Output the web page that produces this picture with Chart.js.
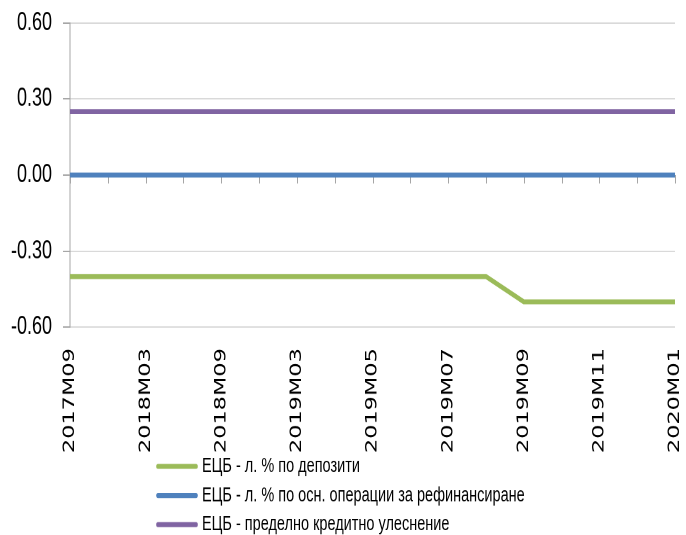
<!DOCTYPE html>
<html lang="bg">
<head>
<meta charset="utf-8">
<title>ЕЦБ - лихвени проценти</title>
<script src="https://cdn.jsdelivr.net/npm/chart.js@4.4.1/dist/chart.umd.min.js"></script>
<style>
  html, body { margin: 0; padding: 0; background: #fff; height: 535px; overflow: hidden; }
  /* графиката е изтеглена вертикално, както в оригиналния отчет */
  #wrap { width: 686px; height: 382px; transform: scaleY(1.4005); transform-origin: 0 0; }
  #rates { display: block; }
</style>
</head>
<body>
<div id="wrap"><canvas id="rates" width="686" height="382"></canvas></div>
<script>
// --- данни ---
const periods = ['2017M09', '2017M12', '2018M03', '2018M06', '2018M09', '2018M12',
                 '2019M03', '2019M04', '2019M05', '2019M06', '2019M07', '2019M08',
                 '2019M09', '2019M10', '2019M11', '2019M12', '2020M01'];

const depositRate  = [-0.40, -0.40, -0.40, -0.40, -0.40, -0.40, -0.40, -0.40, -0.40,
                      -0.40, -0.40, -0.40, -0.50, -0.50, -0.50, -0.50, -0.50];
const mroRate      = [0.00, 0.00, 0.00, 0.00, 0.00, 0.00, 0.00, 0.00, 0.00,
                      0.00, 0.00, 0.00, 0.00, 0.00, 0.00, 0.00, 0.00];
const marginalRate = [0.25, 0.25, 0.25, 0.25, 0.25, 0.25, 0.25, 0.25, 0.25,
                      0.25, 0.25, 0.25, 0.25, 0.25, 0.25, 0.25, 0.25];

const seriesNames = ['ЕЦБ - л. % по депозити',
                     'ЕЦБ - л. % по осн. операции за рефинансиране',
                     'ЕЦБ - пределно кредитно улеснение'];

const yTickValues = [-0.6, -0.3, 0, 0.3, 0.6];

// чертички на категорийната ос, поставени върху нулевата линия
const zeroTicks = {
    id: 'zeroTicks',
    beforeDatasetsDraw(chart) {
        const xs = chart.scales.x, ys = chart.scales.y;
        const y0 = ys.getPixelForValue(0);
        const ctx = chart.ctx;
        ctx.save();
        ctx.strokeStyle = '#a6a6a6';
        ctx.lineWidth = 1;
        ctx.beginPath();
        ctx.moveTo(xs.left, y0);
        ctx.lineTo(xs.right, y0);
        for (let i = 0; i < periods.length; i++) {
            const x = Math.round(xs.getPixelForTick(i)) + 0.5;
            ctx.moveTo(x, y0);
            ctx.lineTo(x, y0 + 6);
        }
        ctx.stroke();
        ctx.restore();
    }
};

// легенда - по един ред за всяка серия, центрирана под графиката
const listLegend = {
    id: 'listLegend',
    afterDraw(chart) {
        const ctx = chart.ctx;
        const top = chart.scales.x.bottom + 8.4;
        const step = 20.8;
        const sample = 42, gap = 4;
        ctx.save();
        ctx.font = '14.5px "Liberation Sans", Arial, sans-serif';
        const widest = Math.max(...chart.data.datasets.map(d => ctx.measureText(d.label).width));
        const left = Math.round((chart.width - sample - gap - widest) / 2) - 3;
        chart.data.datasets.forEach((ds, i) => {
            const y = top + i * step;
            ctx.strokeStyle = ds.borderColor;
            ctx.lineWidth = 3.6;
            ctx.lineCap = 'round';
            ctx.beginPath();
            ctx.moveTo(left + 2, y);
            ctx.lineTo(left + sample - 2, y);
            ctx.stroke();
            ctx.fillStyle = '#000';
            ctx.textAlign = 'left';
            ctx.textBaseline = 'middle';
            ctx.fillText(ds.label, left + sample + gap, y);
        });
        ctx.restore();
    }
};

new Chart(document.getElementById('rates'), {
    type: 'line',
    data: {
        labels: periods,
        datasets: [
            { label: seriesNames[0], data: depositRate,  borderColor: '#9bbb59' },
            { label: seriesNames[1], data: mroRate,      borderColor: '#4f81bd' },
            { label: seriesNames[2], data: marginalRate, borderColor: '#8064a2' }
        ]
    },
    options: {
        responsive: false,
        devicePixelRatio: 2,
        animation: false,
        layout: { padding: { top: 16.4, right: 11, bottom: 57.4, left: 0 } },
        plugins: { legend: { display: false }, tooltip: { enabled: false } },
        elements: {
            point: { radius: 0, hoverRadius: 0 },
            line: { tension: 0, borderWidth: 3.6, fill: false }
        },
        scales: {
            x: {
                type: 'category',
                grid: { display: false, drawTicks: false },
                border: { display: false },
                ticks: {
                    autoSkip: false,
                    maxRotation: 90,
                    minRotation: 90,
                    padding: 15,
                    color: '#000',
                    font: { family: '"DejaVu Sans"', size: 16 },
                    callback: (v, i) => (i % 2 === 0 ? periods[i] : '')
                },
                afterFit: s => { s.height = 91; s.paddingLeft = 0; s.paddingRight = 0; }
            },
            y: {
                min: -0.6,
                max: 0.6,
                afterBuildTicks: s => { s.ticks = yTickValues.map(v => ({ value: v })); },
                grid: { color: '#d9d9d9', lineWidth: 1, tickLength: 7, tickColor: '#a6a6a6' },
                border: { color: '#a6a6a6' },
                ticks: {
                    padding: 11,
                    color: '#000',
                    font: { family: '"Liberation Sans"', size: 18 },
                    callback: v => v.toFixed(2)
                },
                afterFit: s => { s.width = 70; s.paddingTop = 0; s.paddingBottom = 0; }
            }
        }
    },
    plugins: [zeroTicks, listLegend]
});
</script>
</body>
</html>
